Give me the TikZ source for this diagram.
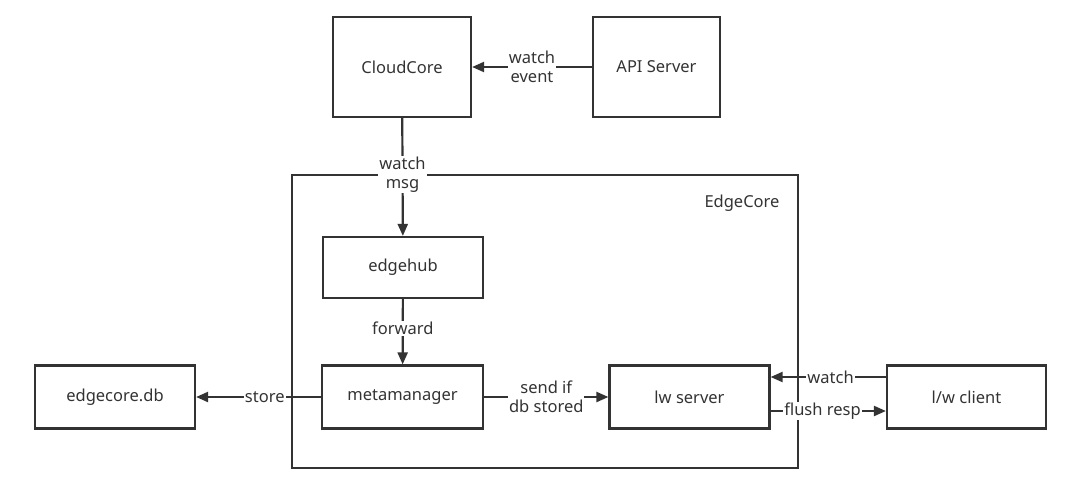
\documentclass[tikz,border=0pt]{standalone}
\usepackage{fontspec}
\setmainfont{Noto Sans}
\usetikzlibrary{arrows.meta}
\definecolor{ink}{HTML}{333333}
\begin{document}
\begin{tikzpicture}[x=1pt,y=-1pt,
  box/.style={draw=ink,line width=2.2pt,rectangle,inner sep=0pt,text=ink,font=\fontsize{16.5}{20}\selectfont},
  conn/.style={draw=ink,line width=2.2pt,-{Triangle[length=12pt,width=10pt]}},
  lbl/.style={fill=white,text=ink,font=\fontsize{16.5}{19}\selectfont,align=center,inner sep=1pt}]
\useasboundingbox (0,0) rectangle (1083,496);
\node[box,minimum width=138pt,minimum height=100pt] (cloud) at (402,67) {CloudCore};
\node[box,minimum width=127pt,minimum height=100pt] (api) at (656.5,67) {API Server};
\node[box,minimum width=506pt,minimum height=293pt] (edge) at (545,321.5) {};
\node[text=ink,font=\fontsize{16.5}{20}\selectfont] (edgelbl) at (742,203) {EdgeCore};
\node[box,minimum width=160pt,minimum height=61pt] (hub) at (403,267.5) {edgehub};
\node[box,minimum width=161pt,minimum height=63pt] (meta) at (402.5,397) {metamanager};
\node[box,minimum width=160pt,minimum height=63pt] (db) at (115,397) {edgecore.db};
\node[box,minimum width=160pt,minimum height=63pt] (lw) at (689.5,397) {lw server};
\node[box,minimum width=159pt,minimum height=63pt] (client) at (966.5,397) {l/w client};
\draw[conn] (api) -- node[lbl] {watch\\event} (cloud);
\draw[conn] (cloud) -- node[lbl,pos=0.48] {watch\\msg} (hub);
\draw[conn] (hub) -- node[lbl,pos=0.45] {forward} (meta);
\draw[conn] (meta) -- node[lbl,pos=0.45] {store} (db);
\draw[conn] (meta) -- node[lbl] {send if\\db stored} (lw);
\draw[conn] (client.west |- 0,377) -- node[lbl,pos=0.48] {watch} (lw.east |- 0,377);
\draw[conn] (lw.east |- 0,411) -- node[lbl,pos=0.45] {flush resp} (client.west |- 0,411);
\end{tikzpicture}
\end{document}
